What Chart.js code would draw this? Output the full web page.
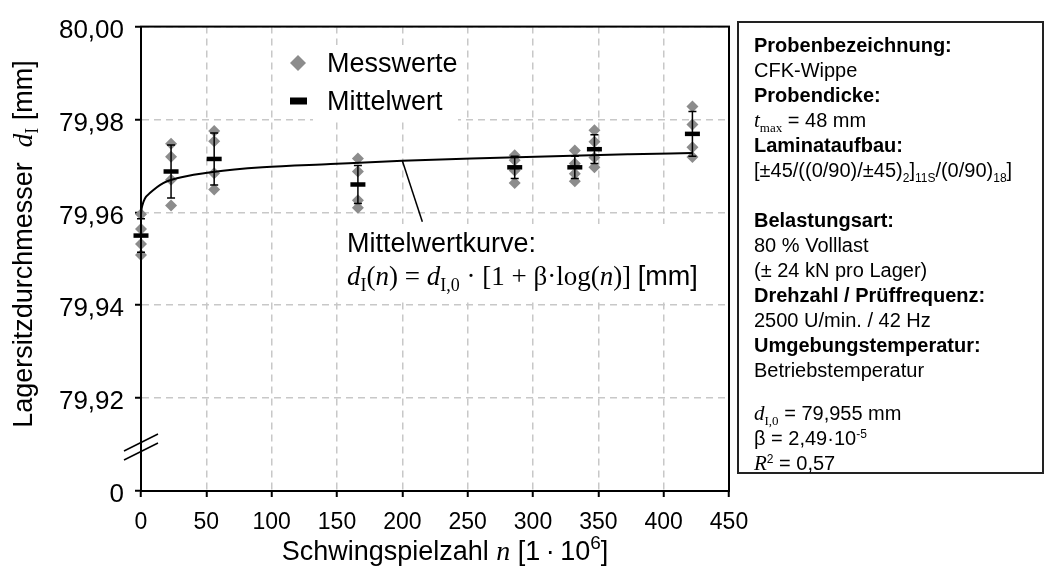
<!DOCTYPE html>
<html lang="de">
<head>
<meta charset="utf-8">
<title>Lagersitzdurchmesser</title>
<script src="https://cdn.jsdelivr.net/npm/chart.js@4.4.1/dist/chart.umd.min.js"></script>
<style>
	body { margin: 0; background: #fff; }
	#wrap { position: relative; width: 1048px; height: 579px; }
	#info {
		position: absolute; left: 737px; top: 21px; width: 307px; height: 453px;
		box-sizing: border-box; border: 2px solid #222; padding: 10px 0 0 15px;
		font-family: 'Liberation Sans', Arial, sans-serif; font-size: 20px; color: #000;
	}
	#info div { height: 25px; line-height: 25px; white-space: nowrap; }
	#info b { font-weight: bold; }
	#info .luecke { height: 18px; }
	#info .var { font-family: 'Liberation Serif', 'Times New Roman', serif; font-style: italic; font-size: 21px; }
	#info .tief { font-family: 'Liberation Serif', 'Times New Roman', serif; font-size: 13px; position: relative; top: 5px; }
	#info .tiefs { font-size: 12px; position: relative; top: 5px; }
	#info .hoch { font-size: 12px; position: relative; top: -7px; }
</style>
</head>
<body>
<div id="wrap">
	<canvas id="canvasLagersitz" width="1048" height="579"></canvas>
	<div id="info">
		<div><b>Probenbezeichnung:</b></div>
		<div>CFK-Wippe</div>
		<div><b>Probendicke:</b></div>
		<div><span class="var">t</span><span class="tief">max</span> = 48 mm</div>
		<div><b>Laminataufbau:</b></div>
		<div>[±45/((0/90)/±45)<span class="tiefs">2</span>]<span class="tiefs">11S</span>/(0/90)<span class="tiefs">18</span>]</div>
		<div></div>
		<div><b>Belastungsart:</b></div>
		<div>80 % Volllast</div>
		<div>(± 24 kN pro Lager)</div>
		<div><b>Drehzahl / Prüffrequenz:</b></div>
		<div>2500 U/min. / 42 Hz</div>
		<div><b>Umgebungstemperatur:</b></div>
		<div>Betriebstemperatur</div>
		<div class="luecke"></div>
		<div><span class="var">d</span><span class="tief">I,0</span> = 79,955 mm</div>
		<div>β = 2,49·10<span class="hoch">-5</span></div>
		<div><span class="var">R</span><span class="hoch">2</span> = 0,57</div>
	</div>
</div>
<script>
// Schwingspielzahl der Messzeitpunkte [1e6]
var schwingspiele = [0, 23, 56, 166, 286, 332, 347, 422];

// Einzelmessungen je Messzeitpunkt [mm]
var messwerte = [
	[79.9596, 79.9564, 79.9532, 79.9508],
	[79.9748, 79.9720, 79.9670, 79.9615],
	[79.9775, 79.9753, 79.9684, 79.9649],
	[79.9716, 79.9688, 79.9626, 79.9610],
	[79.9723, 79.9712, 79.9690, 79.9663],
	[79.9733, 79.9705, 79.9683, 79.9667],
	[79.9777, 79.9752, 79.9718, 79.9697],
	[79.9828, 79.9789, 79.9740, 79.9719]
];

// Mittelwert und Streuung je Messzeitpunkt [mm]
var mittelwerte = [79.9550, 79.9688, 79.9715, 79.9660, 79.9697, 79.9697, 79.9736, 79.9769];
var streuung = [0.0036, 0.0057, 0.0056, 0.0041, 0.0024, 0.0024, 0.0031, 0.0048];

// Mittelwertkurve d(n)
var kurveN = [0, 0.3, 1, 3, 7, 17, 30, 55, 93, 145, 200, 267, 330, 374, 422];
var kurveD = [79.9595, 79.9605, 79.9615, 79.9630, 79.9642, 79.9663, 79.9675, 79.9687, 79.9697, 79.9704, 79.9711, 79.9717, 79.9722, 79.9725, 79.9728];

// Achsen
var xTicks = [0, 50, 100, 150, 200, 250, 300, 350, 400, 450];
var yTicks = [79.90, 79.92, 79.94, 79.96, 79.98, 80.00];
var yTickLabels = ['0', '79,92', '79,94', '79,96', '79,98', '80,00'];

var SANS = "'Liberation Sans', Arial, sans-serif";
var SERIF = "'Liberation Serif', 'Times New Roman', serif";

/***********************************************************************************************
 * Text aus mehreren Teilen (Schrift wechselt, Indizes)
 ***********************************************************************************************/
function schreibeTeile(ctx, teile, x, y, mittig) {
	var breite = 0;
	teile.forEach(function(t) {
		ctx.font = t[1];
		breite += ctx.measureText(t[0]).width;
	});
	var px = mittig ? x - breite / 2 : x;
	ctx.textAlign = 'left';
	ctx.textBaseline = 'alphabetic';
	ctx.fillStyle = '#000';
	teile.forEach(function(t) {
		ctx.font = t[1];
		ctx.fillText(t[0], px, y + (t[2] || 0));
		px += ctx.measureText(t[0]).width;
	});
}

/***********************************************************************************************
 * Zusatzelemente: Fehlerbalken, Rahmen, Achsbruch, Legende, Beschriftungen
 ***********************************************************************************************/
var zusatz = {
	id: 'zusatz',
	beforeDatasetsDraw: function(chart) {
		var ctx = chart.ctx;
		ctx.save();
		ctx.fillStyle = '#fff';
		ctx.fillRect(313, 45, 145, 76);
		ctx.fillRect(343, 224, 360, 74);
		ctx.restore();
	},
	afterDatasetsDraw: function(chart) {
		var ctx = chart.ctx;
		var xs = chart.scales.x, ys = chart.scales.y;
		var a = chart.chartArea;

		// Fehlerbalken
		ctx.save();
		ctx.strokeStyle = '#000';
		ctx.lineWidth = 1.5;
		for (var i = 0; i < schwingspiele.length; i++) {
			var x = xs.getPixelForValue(schwingspiele[i]);
			var yo = ys.getPixelForValue(mittelwerte[i] + streuung[i]);
			var yu = ys.getPixelForValue(mittelwerte[i] - streuung[i]);
			ctx.beginPath();
			ctx.moveTo(x, yo); ctx.lineTo(x, yu);
			ctx.moveTo(x - 4, yo); ctx.lineTo(x + 4, yo);
			ctx.moveTo(x - 4, yu); ctx.lineTo(x + 4, yu);
			ctx.stroke();
		}

		// Rahmen
		ctx.lineWidth = 2;
		ctx.strokeRect(a.left, a.top, a.right - a.left, a.bottom - a.top);

		// Achsbruch
		ctx.lineWidth = 1.5;
		ctx.beginPath();
		ctx.moveTo(a.left - 17, 451); ctx.lineTo(a.left + 17, 434);
		ctx.moveTo(a.left - 17, 460); ctx.lineTo(a.left + 17, 443);
		ctx.stroke();

		// Hinweislinie zur Mittelwertkurve
		var hx = xs.getPixelForValue(200), hy = ys.getPixelForValue(79.9711);
		ctx.lineWidth = 1.5;
		ctx.beginPath();
		ctx.moveTo(hx, hy); ctx.lineTo(hx + 20, hy + 61);
		ctx.stroke();

		// Legende
		ctx.fillStyle = '#8c8c8c';
		ctx.beginPath();
		ctx.moveTo(290, 63); ctx.lineTo(298, 55); ctx.lineTo(306, 63); ctx.lineTo(298, 71);
		ctx.closePath();
		ctx.fill();
		ctx.fillStyle = '#000';
		ctx.fillRect(290, 97.5, 17, 7);
		schreibeTeile(ctx, [['Messwerte', '27px ' + SANS]], 327, 72);
		schreibeTeile(ctx, [['Mittelwert', '27px ' + SANS]], 327, 110);

		// Kurvenbeschriftung
		schreibeTeile(ctx, [['Mittelwertkurve:', '27px ' + SANS]], 347, 252);
		schreibeTeile(ctx, [
			['d', 'italic 27px ' + SERIF],
			['I', '18px ' + SERIF, 6],
			['(', '27px ' + SERIF],
			['n', 'italic 27px ' + SERIF],
			[') = ', '27px ' + SERIF],
			['d', 'italic 27px ' + SERIF],
			['I,0', '18px ' + SERIF, 6],
			[' · [1 + β·log(', '27px ' + SERIF],
			['n', 'italic 27px ' + SERIF],
			[')] ', '27px ' + SERIF],
			['[mm]', '27px ' + SANS]
		], 347, 285);
		ctx.restore();
	},
	afterDraw: function(chart) {
		var ctx = chart.ctx;
		ctx.save();
		// Achsentitel x
		schreibeTeile(ctx, [
			['Schwingspielzahl ', '27px ' + SANS],
			['n', 'italic 28px ' + SERIF],
			[' [1\u2009·\u200910', '27px ' + SANS],
			['6', '19px ' + SANS, -11],
			[']', '27px ' + SANS]
		], 445, 560, true);
		// Achsentitel y
		ctx.translate(32, 244);
		ctx.rotate(-Math.PI / 2);
		schreibeTeile(ctx, [
			['Lagersitzdurchmesser  ', '27px ' + SANS],
			['d', 'italic 27px ' + SERIF],
			['I', '18px ' + SERIF, 6],
			[' [mm]', '27px ' + SANS]
		], 0, 0, true);
		ctx.restore();
	}
};

var messPunkte = [];
schwingspiele.forEach(function(n, i) {
	messwerte[i].forEach(function(d) { messPunkte.push({ x: n, y: d }); });
});
var mittelPunkte = schwingspiele.map(function(n, i) { return { x: n, y: mittelwerte[i] }; });
var kurvePunkte = kurveN.map(function(n, i) { return { x: n, y: kurveD[i] }; });

var gridFarbe = '#c8c8c8';

new Chart(document.getElementById('canvasLagersitz'), {
	type: 'scatter',
	data: {
		datasets: [{
			label: 'Mittelwert',
			data: mittelPunkte,
			pointStyle: 'line',
			pointRadius: 7.5,
			pointHoverRadius: 7.5,
			borderColor: '#000',
			backgroundColor: '#000',
			borderWidth: 4.5,
			order: 1,
			clip: false
		}, {
			label: 'Mittelwertkurve',
			type: 'line',
			data: kurvePunkte,
			borderColor: '#000',
			borderWidth: 2,
			pointRadius: 0,
			cubicInterpolationMode: 'monotone',
			fill: false,
			order: 2
		}, {
			label: 'Messwerte',
			data: messPunkte,
			pointStyle: 'rectRot',
			pointRadius: 6,
			pointHoverRadius: 6,
			backgroundColor: '#8c8c8c',
			borderWidth: 0,
			order: 3,
			clip: false
		}]
	},
	options: {
		responsive: false,
		animation: false,
		events: [],
		layout: { padding: { left: 0, top: 22, right: 319, bottom: 0 } },
		plugins: {
			legend: { display: false },
			tooltip: { enabled: false }
		},
		scales: {
			x: {
				type: 'linear',
				min: 0,
				max: 450,
				afterFit: function(s) { s.height = 88; },
				afterBuildTicks: function(s) { s.ticks = xTicks.map(function(v) { return { value: v }; }); },
				grid: {
					color: function(c) { return c.tick && c.tick.value === 0 ? 'rgba(0,0,0,0)' : gridFarbe; },
					lineWidth: 1.5,
					tickColor: '#000',
					tickLength: 6,
					tickWidth: 2
				},
				border: { color: '#000', width: 2, dash: [7, 5] },
				ticks: {
					color: '#000',
					font: { family: SANS, size: 23 },
					padding: 12,
					maxRotation: 0,
					autoSkip: false
				}
			},
			y: {
				type: 'linear',
				min: 79.90,
				max: 80.00,
				afterFit: function(s) { s.width = 141; },
				afterBuildTicks: function(s) { s.ticks = yTicks.map(function(v) { return { value: v }; }); },
				grid: {
					color: function(c) { return c.tick && c.index === 0 ? 'rgba(0,0,0,0)' : gridFarbe; },
					lineWidth: 1.5,
					tickColor: '#000',
					tickLength: 6,
					tickWidth: 2
				},
				border: { color: '#000', width: 2, dash: [7, 5] },
				ticks: {
					color: '#000',
					font: { family: SANS, size: 26 },
					padding: 11,
					labelOffset: 4,
					autoSkip: false,
					callback: function(value, index) { return yTickLabels[index]; }
				}
			}
		}
	},
	plugins: [zusatz]
});
</script>
</body>
</html>
